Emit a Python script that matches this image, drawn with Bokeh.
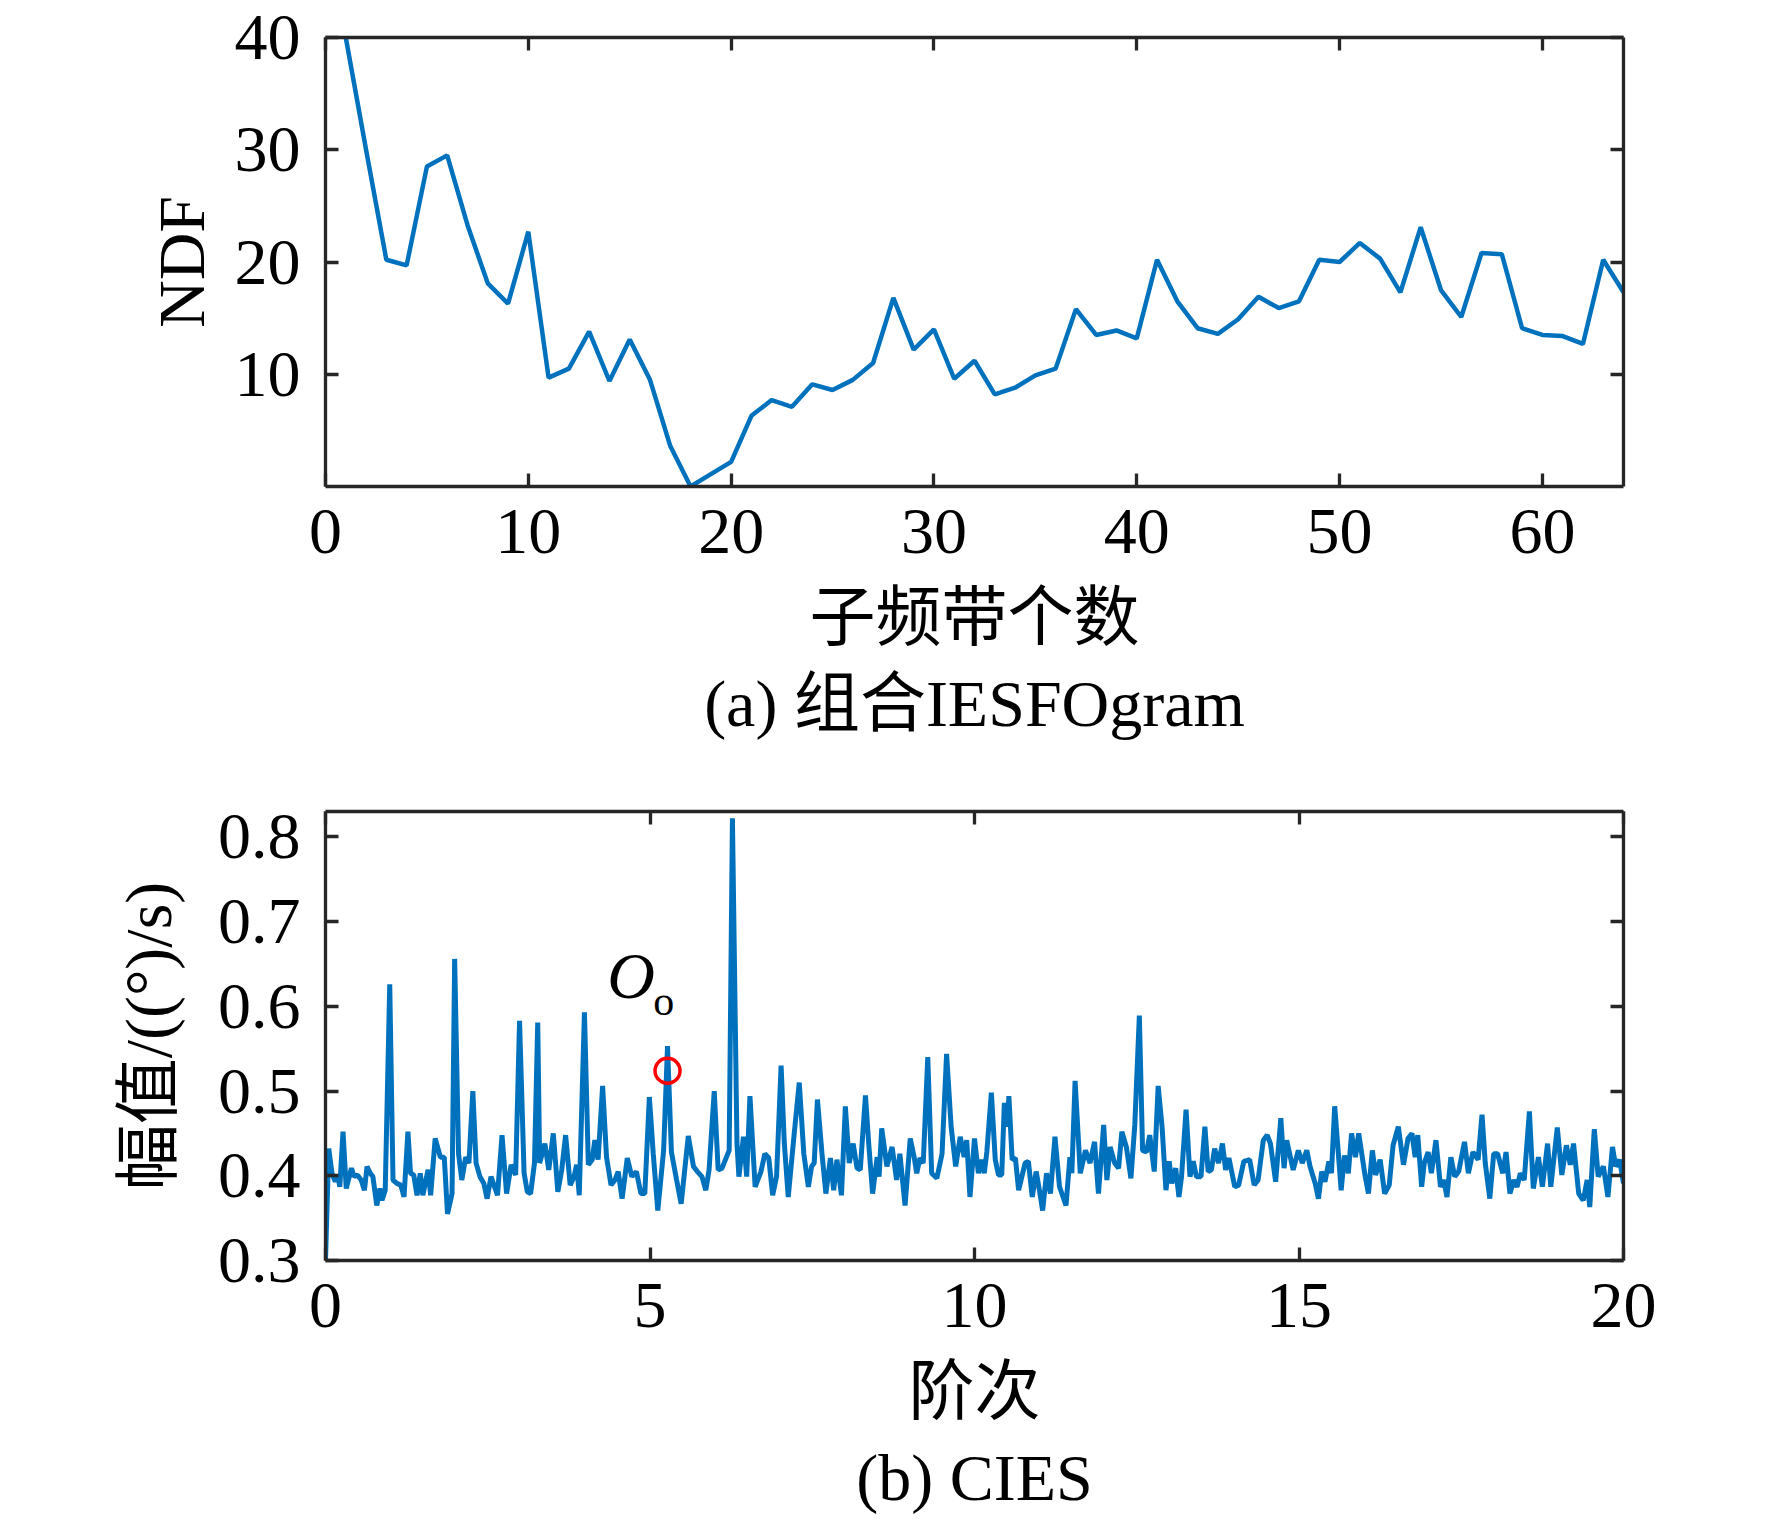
from bokeh.plotting import figure
from bokeh.models import Range1d, FixedTicker, LinearAxis, Title, Label, CustomJSTickFormatter
from bokeh.layouts import column
from bokeh.embed import file_html
from bokeh.resources import INLINE

# (a) NDF versus number of sub-bands
band_count = list(range(1, 65))
ndf = [40.0, 30.0, 20.2, 19.7, 28.5, 29.5, 23.3, 18.1, 16.3, 22.7,
       9.7, 10.5, 13.8, 9.4, 13.1, 9.5, 3.6, 0.0, 1.1, 2.2,
       6.3, 7.7, 7.1, 9.1, 8.6, 9.5, 11.0, 16.8, 12.2, 14.0,
       9.6, 11.2, 8.2, 8.8, 9.9, 10.5, 15.8, 13.5, 13.9, 13.2,
       20.2, 16.5, 14.1, 13.6, 14.9, 16.9, 15.9, 16.5, 20.2, 20.0,
       21.7, 20.3, 17.3, 23.1, 17.5, 15.1, 20.8, 20.7, 14.1, 13.5,
       13.4, 12.7, 20.2, 17.3]
ndf_xticks = [0, 10, 20, 30, 40, 50, 60]
ndf_yticks = [10, 20, 30, 40]

# (b) CIES spectrum
cies_order = [
    0.00, 0.05, 0.10, 0.15, 0.19, 0.22, 0.27, 0.32, 0.40, 0.44, 0.49, 0.55, 0.60, 0.64, 0.69, 0.73,
    0.79, 0.84, 0.87, 0.92, 0.99, 1.04, 1.10, 1.16, 1.21, 1.27, 1.31, 1.36, 1.41, 1.46, 1.50, 1.58,
    1.62, 1.69, 1.77, 1.83, 1.88, 1.95, 1.99, 2.05, 2.10, 2.16, 2.21, 2.27, 2.32, 2.38, 2.44, 2.49,
    2.55, 2.65, 2.72, 2.79, 2.86, 2.93, 2.99, 3.06, 3.11, 3.16, 3.22, 3.27, 3.30, 3.38, 3.44, 3.51,
    3.58, 3.64, 3.70, 3.77, 3.83, 3.87, 3.91, 3.99, 4.05, 4.11, 4.15, 4.20, 4.27, 4.33, 4.40, 4.46,
    4.51, 4.57, 4.65, 4.72, 4.79, 4.86, 4.92, 4.99, 5.05, 5.12, 5.21, 5.27, 5.33, 5.41, 5.48, 5.59,
    5.67, 5.73, 5.80, 5.86, 5.91, 5.99, 6.05, 6.11, 6.22, 6.27, 6.34, 6.37, 6.44, 6.49, 6.54, 6.62,
    6.71, 6.77, 6.83, 6.89, 6.95, 7.02, 7.07, 7.13, 7.22, 7.30, 7.37, 7.44, 7.49, 7.53, 7.58, 7.65,
    7.71, 7.78, 7.83, 7.88, 7.95, 8.01, 8.07, 8.13, 8.19, 8.24, 8.32, 8.37, 8.43, 8.50, 8.53, 8.57,
    8.65, 8.73, 8.80, 8.85, 8.93, 9.01, 9.07, 9.11, 9.16, 9.21, 9.28, 9.34, 9.42, 9.50, 9.57, 9.64,
    9.71, 9.78, 9.84, 9.88, 9.93, 10.00, 10.06, 10.11, 10.15, 10.19, 10.26, 10.32, 10.37, 10.42, 10.46, 10.50,
    10.53, 10.58, 10.63, 10.68, 10.73, 10.78, 10.83, 10.89, 10.95, 11.00, 11.05, 11.11, 11.17, 11.24, 11.31, 11.41,
    11.47, 11.50, 11.55, 11.63, 11.71, 11.78, 11.85, 11.91, 11.99, 12.04, 12.09, 12.16, 12.22, 12.27, 12.34, 12.41,
    12.47, 12.54, 12.59, 12.65, 12.70, 12.77, 12.83, 12.89, 12.95, 13.00, 13.04, 13.10, 13.15, 13.19, 13.26, 13.32,
    13.37, 13.42, 13.49, 13.55, 13.60, 13.65, 13.70, 13.76, 13.82, 13.87, 13.92, 14.01, 14.07, 14.15, 14.24, 14.31,
    14.37, 14.45, 14.51, 14.56, 14.64, 14.72, 14.77, 14.81, 14.91, 14.99, 15.05, 15.12, 15.17, 15.25, 15.30, 15.35,
    15.40, 15.46, 15.50, 15.55, 15.65, 15.70, 15.76, 15.81, 15.87, 15.92, 16.02, 16.07, 16.13, 16.18, 16.25, 16.32,
    16.39, 16.45, 16.53, 16.61, 16.68, 16.74, 16.79, 16.83, 16.89, 16.93, 16.99, 17.04, 17.11, 17.18, 17.23, 17.28,
    17.34, 17.40, 17.46, 17.55, 17.61, 17.68, 17.76, 17.82, 17.87, 17.94, 18.00, 18.06, 18.14, 18.19, 18.25, 18.31,
    18.36, 18.41, 18.47, 18.55, 18.61, 18.69, 18.75, 18.83, 18.88, 18.98, 19.05, 19.12, 19.18, 19.23, 19.31, 19.38,
    19.44, 19.48, 19.55, 19.61, 19.69, 19.76, 19.83, 19.88, 19.94, 20.00]
cies_amp = [
    0.300, 0.432, 0.403, 0.393, 0.401, 0.387, 0.452, 0.385, 0.409, 0.399, 0.401, 0.395, 0.383, 0.411, 0.403, 0.399,
    0.365, 0.385, 0.371, 0.383, 0.626, 0.395, 0.391, 0.389, 0.375, 0.452, 0.403, 0.401, 0.377, 0.403, 0.377, 0.407,
    0.377, 0.444, 0.422, 0.422, 0.355, 0.379, 0.656, 0.426, 0.395, 0.422, 0.415, 0.500, 0.415, 0.399, 0.391, 0.373,
    0.399, 0.377, 0.448, 0.379, 0.413, 0.401, 0.583, 0.403, 0.381, 0.379, 0.415, 0.581, 0.415, 0.438, 0.407, 0.450,
    0.381, 0.407, 0.448, 0.389, 0.399, 0.413, 0.377, 0.593, 0.413, 0.419, 0.442, 0.419, 0.506, 0.422, 0.389, 0.395,
    0.405, 0.373, 0.421, 0.399, 0.405, 0.379, 0.379, 0.493, 0.426, 0.359, 0.430, 0.553, 0.428, 0.395, 0.367, 0.447,
    0.411, 0.405, 0.399, 0.383, 0.407, 0.500, 0.407, 0.409, 0.430, 0.822, 0.438, 0.399, 0.446, 0.399, 0.494, 0.387,
    0.405, 0.426, 0.421, 0.377, 0.399, 0.530, 0.438, 0.375, 0.448, 0.510, 0.426, 0.387, 0.411, 0.415, 0.490, 0.426,
    0.379, 0.421, 0.383, 0.419, 0.377, 0.482, 0.415, 0.438, 0.409, 0.407, 0.495, 0.438, 0.379, 0.422, 0.399, 0.456,
    0.411, 0.434, 0.395, 0.426, 0.365, 0.444, 0.422, 0.403, 0.421, 0.415, 0.540, 0.403, 0.397, 0.426, 0.544, 0.458,
    0.411, 0.446, 0.422, 0.442, 0.375, 0.444, 0.403, 0.419, 0.403, 0.428, 0.498, 0.419, 0.401, 0.401, 0.486, 0.458,
    0.494, 0.419, 0.421, 0.383, 0.399, 0.415, 0.417, 0.375, 0.405, 0.383, 0.359, 0.403, 0.379, 0.446, 0.387, 0.365,
    0.422, 0.403, 0.512, 0.403, 0.430, 0.415, 0.440, 0.379, 0.460, 0.395, 0.434, 0.415, 0.409, 0.452, 0.434, 0.397,
    0.460, 0.589, 0.430, 0.428, 0.448, 0.405, 0.506, 0.458, 0.383, 0.417, 0.391, 0.409, 0.375, 0.399, 0.478, 0.399,
    0.417, 0.399, 0.399, 0.458, 0.405, 0.407, 0.432, 0.415, 0.438, 0.407, 0.421, 0.387, 0.389, 0.417, 0.419, 0.389,
    0.395, 0.442, 0.448, 0.438, 0.393, 0.468, 0.409, 0.442, 0.407, 0.430, 0.415, 0.430, 0.411, 0.391, 0.373, 0.405,
    0.393, 0.417, 0.403, 0.482, 0.383, 0.424, 0.403, 0.450, 0.422, 0.450, 0.399, 0.379, 0.430, 0.401, 0.419, 0.379,
    0.389, 0.436, 0.458, 0.413, 0.444, 0.450, 0.422, 0.448, 0.387, 0.415, 0.428, 0.403, 0.442, 0.387, 0.395, 0.375,
    0.422, 0.399, 0.405, 0.440, 0.403, 0.428, 0.419, 0.472, 0.415, 0.373, 0.426, 0.426, 0.403, 0.428, 0.379, 0.395,
    0.387, 0.403, 0.395, 0.476, 0.385, 0.422, 0.387, 0.438, 0.387, 0.457, 0.401, 0.436, 0.413, 0.438, 0.379, 0.371,
    0.395, 0.363, 0.455, 0.399, 0.411, 0.375, 0.434, 0.411, 0.419, 0.391]
cies_xticks = [0, 5, 10, 15, 20]
cies_yticks = [0.3, 0.4, 0.5, 0.6, 0.7, 0.8]

# marked order O_o
mark_order = [5.27]
mark_amp = [0.524]

SERIF = "Liberation Serif, Noto Sans CJK SC"
AX = "#262626"
BLUE = "#0072BD"
FS = "66px"


def style_axis(ax, ticks, show_labels=True):
    ax.ticker = FixedTicker(ticks=ticks)
    ax.axis_line_color = AX
    ax.axis_line_width = 3.3
    ax.major_tick_line_color = AX
    ax.major_tick_line_width = 3.3
    ax.major_tick_in = 13
    ax.major_tick_out = 0
    ax.minor_tick_line_color = None
    ax.major_label_text_font = SERIF
    ax.major_label_text_color = "black"
    ax.major_label_text_font_size = FS
    ax.axis_label_text_font = SERIF
    ax.axis_label_text_font_size = FS
    ax.axis_label_text_font_style = "normal"
    ax.axis_label_text_color = "black"
    if not show_labels:
        # mirrored box axis: ticks only
        ax.formatter = CustomJSTickFormatter(code="return ''")
        ax.major_label_text_font_size = "1px"
        ax.major_label_standoff = 0


def make_panel(x_range, y_range, xticks, yticks, xlabel, ylabel, caption,
               height, top, bottom, ylab_standoff):
    p = figure(width=1728, height=height, x_range=x_range, y_range=y_range,
               output_backend="svg", toolbar_location=None,
               min_border_left=325, min_border_right=105,
               min_border_top=top, min_border_bottom=bottom)
    p.grid.visible = False
    p.outline_line_color = None
    p.background_fill_color = "white"
    p.border_fill_color = "white"

    style_axis(p.xaxis[0], xticks)
    p.xaxis[0].axis_label = xlabel
    p.xaxis[0].major_label_standoff = 23
    p.xaxis[0].axis_label_standoff = 25
    style_axis(p.yaxis[0], yticks)
    p.yaxis[0].axis_label = ylabel
    p.yaxis[0].major_label_standoff = 25
    p.yaxis[0].axis_label_standoff = ylab_standoff

    top_ax = LinearAxis()
    style_axis(top_ax, xticks, show_labels=False)
    p.add_layout(top_ax, "above")
    right_ax = LinearAxis()
    style_axis(right_ax, yticks, show_labels=False)
    p.add_layout(right_ax, "right")

    p.add_layout(Title(text=caption, align="center", text_font=SERIF,
                       text_font_size=FS, text_font_style="normal",
                       text_color="black", standoff=16), "below")
    return p


p1 = make_panel(Range1d(0, 64), Range1d(0, 40), ndf_xticks, ndf_yticks,
                "子频带个数", "NDF", "(a) 组合IESFOgram",
                773, 37, 287, 14)
p1.line(band_count, ndf, line_color=BLUE, line_width=4.5)

p2 = make_panel(Range1d(0, 20), Range1d(0.3, 0.83), cies_xticks, cies_yticks,
                "阶次", "幅值/((°)/s)", "(b) CIES",
                752, 38, 265, 30)
p2.line(cies_order, cies_amp, line_color=BLUE, line_width=5)
p2.scatter(mark_order, mark_amp, marker="circle", size=25, fill_color=None,
           line_color="red", line_width=3.5)
p2.add_layout(Label(x=4.71, y=0.636, text="O", text_font=SERIF,
                    text_font_style="italic", text_font_size="66px",
                    text_align="center", text_baseline="middle",
                    text_color="black"))
p2.add_layout(Label(x=5.21, y=0.606, text="o", text_font=SERIF,
                    text_font_size="42px", text_align="center",
                    text_baseline="middle", text_color="black"))

layout = column(p1, p2, spacing=0)
open("out.html", "w").write(file_html(layout, INLINE))
